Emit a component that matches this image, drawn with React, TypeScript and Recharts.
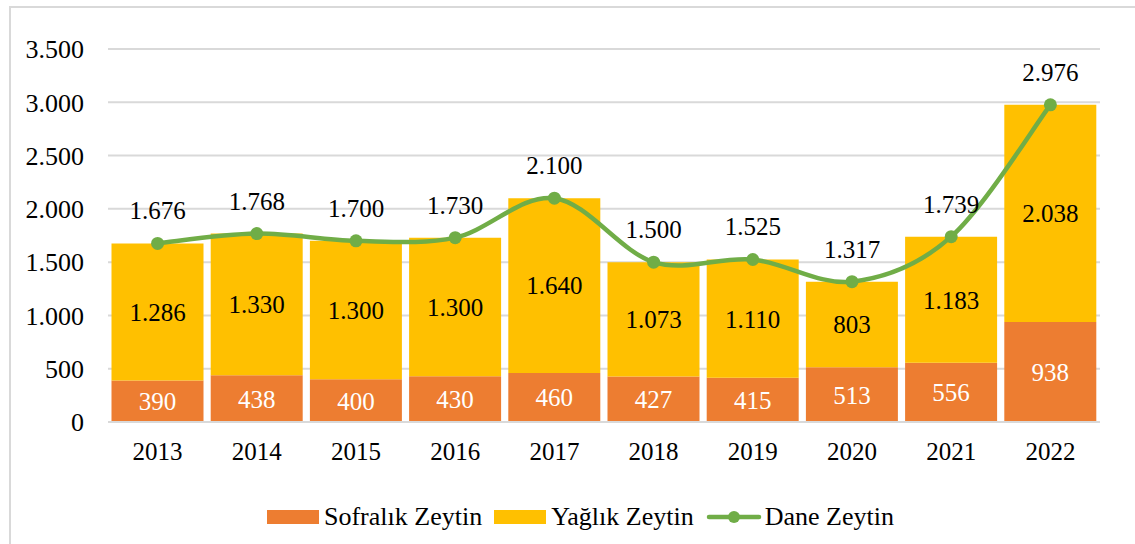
import { ComposedChart, Bar, Line, XAxis, YAxis, CartesianGrid, Legend, LabelList } from "recharts";

const years = ["2013", "2014", "2015", "2016", "2017", "2018", "2019", "2020", "2021", "2022"];
const sofralik = [390, 438, 400, 430, 460, 427, 415, 513, 556, 938];
const yaglik = [1286, 1330, 1300, 1300, 1640, 1073, 1110, 803, 1183, 2038];
const dane = [1676, 1768, 1700, 1730, 2100, 1500, 1525, 1317, 1739, 2976];
const yTicks = [0, 500, 1000, 1500, 2000, 2500, 3000, 3500];

const data = years.map((year, i) => ({
  year,
  sofralik: sofralik[i],
  yaglik: yaglik[i],
  dane: dane[i],
}));

const FONT = "Liberation Serif, DejaVu Serif, serif";
const ORANGE = "#ED7D31";
const YELLOW = "#FFC000";
const GREEN = "#70AD47";
const FS = 25;

// dotted thousands like the original (3.500)
const fmt = (v: any) => String(v).replace(/\B(?=(\d{3})+(?!\d))/g, ".");

// smooth line close to the spreadsheet look (catmull-rom style bezier)
function smoothCurve(context: any) {
  let pts: number[][] = [];
  return {
    areaStart() {},
    areaEnd() {},
    lineStart() {
      pts = [];
    },
    point(x: number, y: number) {
      pts.push([x, y]);
    },
    lineEnd() {
      if (!pts.length) return;
      context.moveTo(pts[0][0], pts[0][1]);
      for (let i = 0; i < pts.length - 1; i++) {
        const p0 = pts[i - 1] || pts[i];
        const p1 = pts[i];
        const p2 = pts[i + 1];
        const p3 = pts[i + 2] || p2;
        const c1x = p1[0] + (p2[0] - p0[0]) / 6;
        const c1y = p1[1] + (p2[1] - p0[1]) / 6;
        const c2x = p2[0] - (p3[0] - p1[0]) / 6;
        const c2y = p2[1] - (p3[1] - p1[1]) / 6;
        context.bezierCurveTo(c1x, c1y, c2x, c2y, p2[0], p2[1]);
      }
    },
  };
}

function LegendContent() {
  const item = { display: "flex", alignItems: "center", marginRight: 12 } as const;
  const text = { fontFamily: FONT, fontSize: 26, color: "#000", marginLeft: 5 };
  return (
    <div style={{ display: "flex", justifyContent: "flex-start", alignItems: "center", paddingLeft: 267 }}>
      <div style={item}>
        <div style={{ width: 52, height: 14, background: ORANGE }} />
        <span style={text}>Sofralık Zeytin</span>
      </div>
      <div style={item}>
        <div style={{ width: 52, height: 14, background: YELLOW }} />
        <span style={text}>Yağlık Zeytin</span>
      </div>
      <div style={{ ...item, marginRight: 0 }}>
        <svg width={56} height={14}>
          <line x1={3} y1={7} x2={53} y2={7} stroke={GREEN} strokeWidth={4.5} strokeLinecap="round" />
          <circle cx={28} cy={7} r={6} fill={GREEN} />
        </svg>
        <span style={{ ...text, marginLeft: 3 }}>Dane Zeytin</span>
      </div>
    </div>
  );
}

export default function App() {
  return (
    <div style={{ position: "absolute", left: 0, top: 0, width: 1135, height: 544, overflow: "hidden", background: "#fff", fontFamily: FONT }}>
      <div
        style={{
          position: "absolute",
          left: 9,
          top: 6,
          width: 1160,
          height: 560,
          border: "2px solid #d9d9d9",
        }}
      />
      <ComposedChart
        width={1135}
        height={544}
        data={data}
        margin={{ top: 49, right: 35, bottom: 12, left: 0 }}
        barCategoryGap={3.5}
        style={{ fontFamily: FONT }}
      >
        <CartesianGrid vertical={false} stroke="#d9d9d9" strokeWidth={2} />
        <XAxis
          dataKey="year"
          height={80}
          tickLine={false}
          tickSize={0}
          tickMargin={20}
          axisLine={{ stroke: "#d9d9d9", strokeWidth: 2 }}
          tick={{ fill: "#000", fontSize: FS, fontFamily: FONT }}
        />
        <YAxis
          width={108}
          domain={[0, 3500]}
          ticks={yTicks}
          tickFormatter={fmt}
          axisLine={false}
          tickLine={false}
          tickSize={0}
          tickMargin={24}
          tick={{ fill: "#000", fontSize: 26, fontFamily: FONT }}
        />
        <Legend verticalAlign="bottom" height={30} content={<LegendContent />} />
        <Bar dataKey="sofralik" name="Sofralık Zeytin" stackId="a" fill={ORANGE} isAnimationActive={false}>
          <LabelList dataKey="sofralik" position="center" fill="#fff" fontSize={FS} fontFamily={FONT} formatter={fmt} />
        </Bar>
        <Bar dataKey="yaglik" name="Yağlık Zeytin" stackId="a" fill={YELLOW} isAnimationActive={false}>
          <LabelList dataKey="yaglik" position="center" fill="#000" fontSize={FS} fontFamily={FONT} formatter={fmt} />
        </Bar>
        <Line
          dataKey="dane"
          name="Dane Zeytin"
          type={smoothCurve as any}
          stroke={GREEN}
          strokeWidth={4.5}
          dot={{ r: 6.5, fill: GREEN, stroke: GREEN, strokeWidth: 0 }}
          activeDot={false}
          isAnimationActive={false}
        >
          <LabelList dataKey="dane" position="top" offset={24} fill="#000" fontSize={FS} fontFamily={FONT} formatter={fmt} />
        </Line>
      </ComposedChart>
    </div>
  );
}
